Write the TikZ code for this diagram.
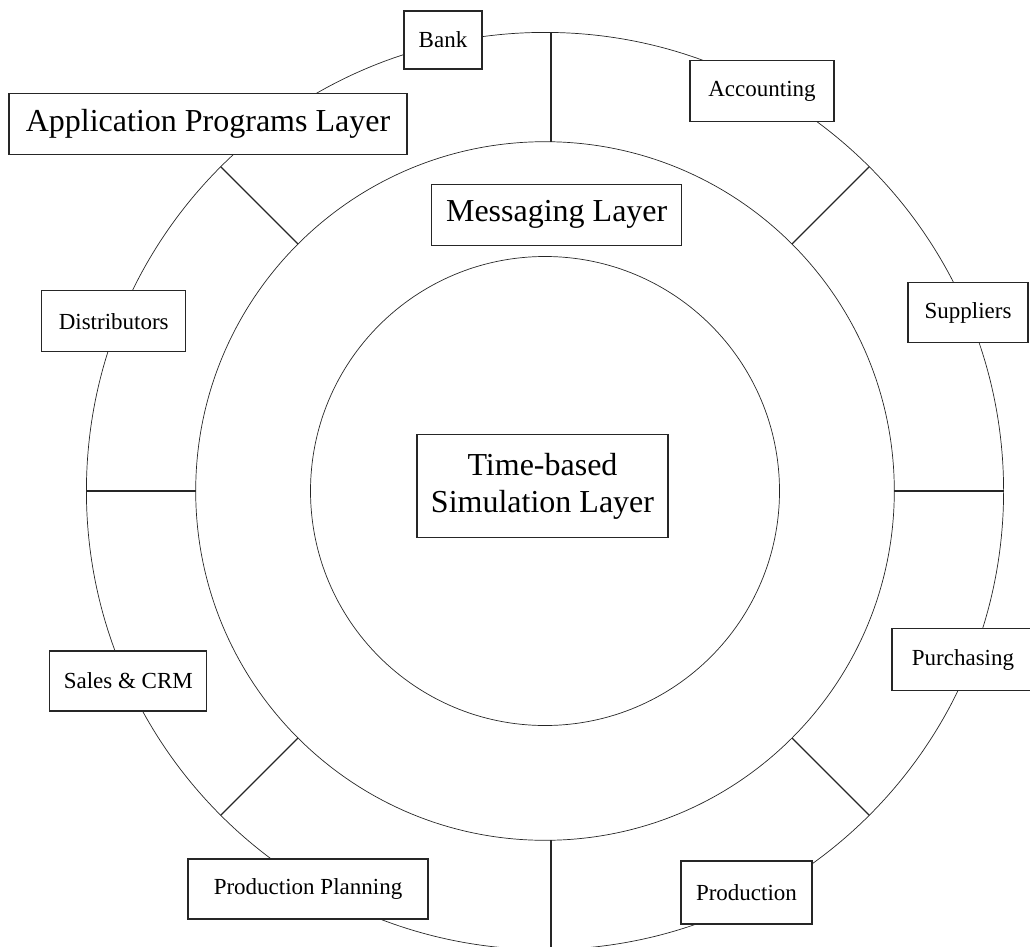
\documentclass[tikz,border=0pt]{standalone}
\usepackage{fontspec}
\setmainfont{Liberation Serif}
\usetikzlibrary{calc}
\begin{document}
\begin{tikzpicture}[x=1pt,y=-1pt,
  ring/.style={line width=0.7pt, black!85},
  spoke/.style={line width=1.1pt, black!85},
  lab/.style={draw=black!85, fill=white, line width=1.1pt, inner sep=0pt, align=center,
              font=\fontsize{23}{26}\selectfont},
  biglab/.style={lab, font=\fontsize{32}{37}\selectfont}]
\useasboundingbox (0,0) rectangle (1030,947);
\clip (0,0) rectangle (1030,947);
\coordinate (c) at (545,491);
% rings
\draw[ring] (c) circle[radius=458.6pt];
\draw[ring] (c) circle[radius=349.3pt];
\draw[ring] (c) circle[radius=234.5pt];
% spoke end points
\foreach \a in {0,45,135,180,225,315}{
  \coordinate (i\a) at ($(c)+(\a:349.3pt)$);
  \coordinate (o\a) at ($(c)+(\a:458.6pt)$);
}
\coordinate (i90) at (551,141.8);
\coordinate (o90) at (551,32.4);
\coordinate (i270) at (551,840.2);
\coordinate (o270) at (551,949.6);
\foreach \a in {0,45,90,135,180,225,270,315}{
  \draw[spoke] (i\a) -- (o\a);
}
% labels
\node[lab, minimum width=78pt, minimum height=58pt] (bank) at (443,40) {Bank};
\node[lab, minimum width=144pt, minimum height=61pt] (acc) at (762,91.3) {Accounting};
\node[biglab, minimum width=398pt, minimum height=61pt] (app) at (208,123.7) {Application Programs Layer};
\node[biglab, minimum width=250pt, minimum height=61pt] (msg) at (556.7,214.7) {Messaging Layer};
\node[lab, minimum width=144pt, minimum height=61pt] (dist) at (113.7,321.2) {Distributors};
\node[lab, minimum width=120pt, minimum height=60pt] (sup) at (968,312.8) {Suppliers};
\node[biglab, minimum width=251pt, minimum height=103pt] (sim) at (542.5,486.3) {Time-based\\Simulation Layer};
\node[lab, minimum width=142pt, minimum height=62pt] (pur) at (963,659.9) {Purchasing};
\node[lab, minimum width=157pt, minimum height=60pt] (sales) at (128.3,681) {Sales \& CRM};
\node[lab, minimum width=240pt, minimum height=60pt] (pp) at (308,889) {Production Planning};
\node[lab, minimum width=131pt, minimum height=63pt] (prod) at (746.5,892.5) {Production};
\end{tikzpicture}
\end{document}
